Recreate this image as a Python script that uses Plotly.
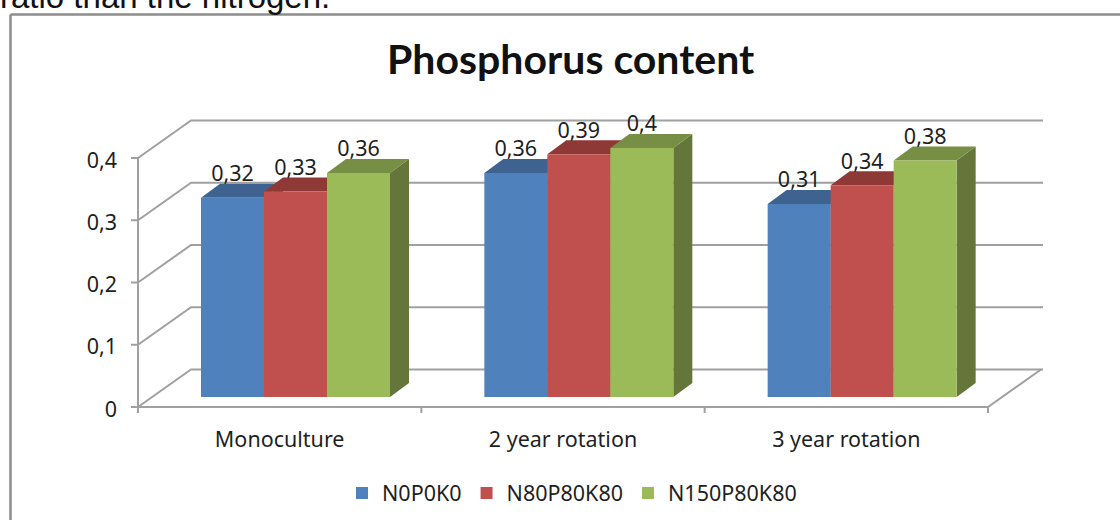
import plotly.graph_objects as go

# --- data ---
categories = ["Monoculture", "2 year rotation", "3 year rotation"]
series_names = ["N0P0K0", "N80P80K80", "N150P80K80"]
n0p0k0 = [0.32, 0.36, 0.31]
n80p80k80 = [0.33, 0.39, 0.34]
n150p80k80 = [0.36, 0.40, 0.38]
y_ticks = [0, 0.1, 0.2, 0.3, 0.4]
y_tick_labels = ["0", "0,1", "0,2", "0,3", "0,4"]
title_text = "Phosphorus content"
header_text = "ratio than the nitrogen."

# --- style ---
W, H = 1120, 520
X0_PX, Y0_PX = 138, 407                    # page position of the front-left corner
L, R, T, B = 125, 1060, 105, 420           # plot area in page pixels
PX_X = 283.33                              # px per category
PX_Y = 622.5                               # px per value unit
X_RANGE = [(L - X0_PX) / PX_X, (R - X0_PX) / PX_X]
Y_RANGE = [(Y0_PX - B) / PX_Y, (Y0_PX - T) / PX_Y]
X_END = (1043 - X0_PX) / PX_X              # right end of the back wall
WALL_DX, WALL_DY = 53 / PX_X, 37.5 / PX_Y  # depth of the chart box
BAR_DX, BAR_DY = 19 / PX_X, 14 / PX_Y      # depth of a bar
LIFT = 10 / PX_Y                           # bars float above the front edge
BAR_W = 63 / PX_X
GROUP_START = 63 / PX_X
TICK_X, TICK_Y = 7 / PX_X, 6 / PX_Y
GRID = "#a0a0a0"
TXT = "#1f1f1f"
FONT = "Noto Sans"
FS = 21.5
front = ["#4F81BD", "#C0504D", "#9BBB59"]
top = ["#3E6391", "#8F3936", "#778F45"]
side = ["#3A5C87", "#853532", "#64763A"]
values = [n0p0k0, n80p80k80, n150p80k80]

fig = go.Figure()


def line(xs, ys):
    fig.add_trace(go.Scatter(x=xs, y=ys, mode="lines", showlegend=False, hoverinfo="skip",
                             line=dict(color=GRID, width=2)))


def poly(xs, ys, color):
    fig.add_trace(go.Scatter(x=xs, y=ys, mode="lines", fill="toself", fillcolor=color,
                             line=dict(color=color, width=0), showlegend=False,
                             hoverinfo="skip"))


n = len(categories)
# chart box: back wall gridlines, left wall diagonals, axis lines, floor, ticks
for v in y_ticks:
    line([0, WALL_DX, X_END], [v, v + WALL_DY, v + WALL_DY])
    line([-TICK_X, 0], [v, v])
line([0, 0], [0, y_ticks[-1]])
line([0, n, n + WALL_DX], [0, 0, WALL_DY])
for c in range(n + 1):
    line([c, c], [0, -TICK_Y])

# bar tops and sides (below the front faces)
for s, vals in enumerate(values):
    for c, v in enumerate(vals):
        x0 = c + GROUP_START + s * BAR_W
        x1 = x0 + BAR_W
        t = v + LIFT
        poly([x1, x1 + BAR_DX, x1 + BAR_DX, x1, x1],
             [LIFT, LIFT + BAR_DY, t + BAR_DY, t, LIFT], side[s])
        poly([x0, x1, x1 + BAR_DX, x0 + BAR_DX, x0],
             [t, t, t + BAR_DY, t + BAR_DY, t], top[s])

# front faces on an overlaying axis pair, so they sit above tops and sides
for s, vals in enumerate(values):
    fig.add_trace(go.Bar(
        name=series_names[s],
        x=[c + GROUP_START + (s + 0.5) * BAR_W for c in range(n)],
        y=vals, base=[LIFT] * n, width=BAR_W,
        marker=dict(color=front[s], line=dict(width=0)),
        xaxis="x2", yaxis="y2",
    ))

# data labels
for s, vals in enumerate(values):
    fig.add_trace(go.Scatter(
        x=[c + GROUP_START + (s + 0.5) * BAR_W for c in range(n)],
        y=[v + LIFT + 22 / PX_Y for v in vals],
        text=[str(v).replace(".", ",") for v in vals],
        mode="text", textposition="middle center", showlegend=False, hoverinfo="skip",
        cliponaxis=False, textfont=dict(family=FONT, size=FS, color=TXT),
        xaxis="x2", yaxis="y2",
    ))


def fx(px):
    return (px - L) / (R - L)


def fy(py):
    return (B - py) / (B - T)


frame = dict(color="#8c8c8c", width=2.5)
fig.update_layout(
    width=W, height=H, autosize=False,
    margin=dict(l=L, r=W - R, t=T, b=H - B, autoexpand=False),
    paper_bgcolor="white", plot_bgcolor="white",
    barmode="overlay",
    xaxis=dict(range=X_RANGE, showgrid=False, zeroline=False, showline=False,
               tickmode="array", tickvals=[i + 0.5 for i in range(n)], ticktext=categories,
               ticks="", ticklabelstandoff=4,
               tickfont=dict(family=FONT, size=FS, color=TXT)),
    yaxis=dict(range=Y_RANGE, showgrid=False, zeroline=False, showline=False,
               tickmode="array", tickvals=y_ticks, ticktext=y_tick_labels,
               ticks="", ticklabelstandoff=7, ticklabelshift=2,
               tickfont=dict(family=FONT, size=FS, color=TXT)),
    xaxis2=dict(range=X_RANGE, overlaying="x", visible=False),
    yaxis2=dict(range=Y_RANGE, overlaying="y", visible=False),
    legend=dict(orientation="h", x=fx(342), xanchor="left", y=fy(493), yanchor="middle",
                font=dict(family=FONT, size=FS, color=TXT), bgcolor="rgba(0,0,0,0)",
                traceorder="normal", itemwidth=30),
    shapes=[
        dict(type="line", xref="paper", yref="paper", x0=fx(10.5), x1=fx(1125), y0=fy(14.5), y1=fy(14.5), line=frame),
        dict(type="line", xref="paper", yref="paper", x0=fx(10.5), x1=fx(10.5), y0=fy(14.5), y1=fy(525), line=frame),
    ],
    annotations=[
        dict(text=title_text, xref="paper", yref="paper", x=fx(571), y=fy(58), xanchor="center",
             yanchor="middle", showarrow=False,
             font=dict(family="Lato", size=41, color="#111111", weight="bold")),
        dict(text=header_text, xref="paper", yref="paper", x=fx(-1), y=fy(16), xanchor="left",
             yanchor="bottom", showarrow=False, borderpad=0,
             font=dict(family="Liberation Sans", size=33, color="#111111")),
    ],
)

fig.write_html("out.html", config=dict(displayModeBar=False),
               post_script="document.body.style.margin='0';window.dispatchEvent(new Event('resize'));")
